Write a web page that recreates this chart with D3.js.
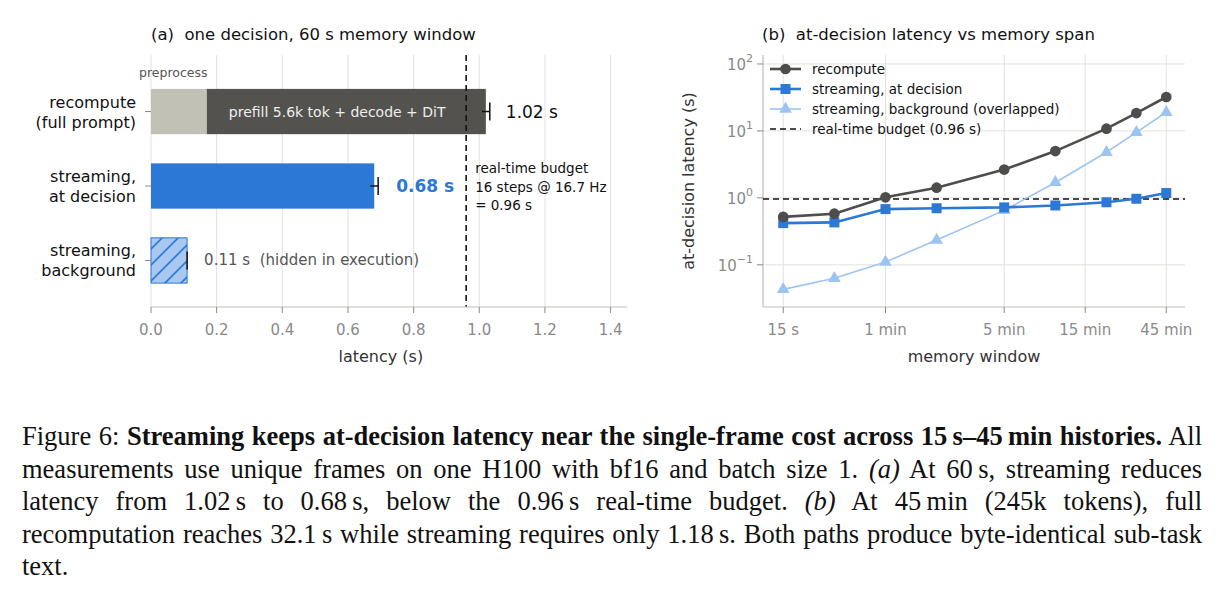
<!DOCTYPE html>
<html><head><meta charset="utf-8">
<script src="https://cdn.jsdelivr.net/npm/d3@7"></script>
<style>
body{margin:0;background:#fff;}
#cap{position:absolute;left:22px;top:420px;width:1180px;font-family:"Liberation Serif","Times New Roman",serif;font-size:26.5px;line-height:32.5px;text-align:justify;color:#111;}
svg text{white-space:pre;}
</style></head><body>
<svg id="fig" width="1219" height="400" style="position:absolute;left:0;top:0"></svg>
<div id="cap">Figure 6: <b>Streaming keeps at-decision latency near the single-frame cost across 15&#8201;s–45&#8201;min histories.</b> All measurements use unique frames on one H100 with bf16 and batch size 1. <i>(a)</i> At 60&#8201;s, streaming reduces latency from 1.02&#8201;s to 0.68&#8201;s, below the 0.96&#8201;s real-time budget. <i>(b)</i> At 45&#8201;min (245k tokens), full recomputation reaches 32.1&#8201;s while streaming requires only 1.18&#8201;s. Both paths produce byte-identical sub-task text.</div>
<script>
// panel (a)
const barCats = ["recompute|(full prompt)", "streaming,|at decision", "streaming,|background"];
const preprocess = 0.17;
const barTotals = [1.02, 0.68, 0.11];
const barErr = [0.012, 0.012, 0.0];
const budget = 0.96;
const aTicks = [0, 0.2, 0.4, 0.6, 0.8, 1.0, 1.2, 1.4];
// panel (b)
const windowSec = [15, 30, 60, 120, 300, 600, 1200, 1800, 2700];
const recompute = [0.52, 0.58, 1.02, 1.42, 2.65, 5.0, 10.8, 18.5, 32.1];
const streamDecision = [0.42, 0.43, 0.68, 0.70, 0.72, 0.77, 0.86, 0.97, 1.18];
const streamBackground = [0.043, 0.063, 0.11, 0.235, 0.65, 1.7, 4.8, 9.5, 19.0];
const bTickVals = [15, 60, 300, 900, 2700];
const bTickLabels = ["15 s", "1 min", "5 min", "15 min", "45 min"];

const svg = d3.select("#fig");
const F = "DejaVu Sans, sans-serif";
const grid = "#e2e1dc", axisC = "#bdbcb4", tickC = "#8a8a8a";

// ---- (a)
const xa = d3.scaleLinear().domain([0, 1.45]).range([151, 627]);
const ya = d3.scaleBand().domain(barCats).range([74, 298]).paddingInner(0.392).paddingOuter(0.2);
const ga = svg.append("g");
ga.selectAll("line.g").data(aTicks).join("line")
  .attr("x1", d => xa(d)).attr("x2", d => xa(d)).attr("y1", 55).attr("y2", 307)
  .attr("stroke", grid).attr("stroke-width", 1);
const defs = svg.append("defs");
const pat = defs.append("pattern").attr("id", "hatch").attr("patternUnits", "userSpaceOnUse")
  .attr("width", 16).attr("height", 16);
pat.append("rect").attr("width", 16).attr("height", 16).attr("fill", "#a8c8f0");
pat.append("path").attr("d", "M-4,4 L4,-4 M0,16 L16,0 M12,20 L20,12").attr("stroke", "#2b78d6").attr("stroke-width", 1.6);

const bh = ya.bandwidth();
ga.append("rect").attr("x", xa(0)).attr("y", ya(barCats[0])).attr("width", xa(preprocess) - xa(0)).attr("height", bh).attr("fill", "#c2c1b6");
ga.append("rect").attr("x", xa(preprocess)).attr("y", ya(barCats[0])).attr("width", xa(barTotals[0]) - xa(preprocess)).attr("height", bh).attr("fill", "#53524e");
ga.append("rect").attr("x", xa(0)).attr("y", ya(barCats[1])).attr("width", xa(barTotals[1]) - xa(0)).attr("height", bh).attr("fill", "#2b78d6");
ga.append("rect").attr("x", xa(0)).attr("y", ya(barCats[2])).attr("width", xa(barTotals[2]) - xa(0)).attr("height", bh).attr("fill", "url(#hatch)").attr("stroke", "#2b78d6").attr("stroke-width", 1);
barCats.forEach((c, i) => {
  const cy = ya(c) + bh / 2;
  const g = ga.append("g").attr("stroke", "#111").attr("stroke-width", 1.5);
  g.append("line").attr("x1", xa(barTotals[i] - barErr[i])).attr("x2", xa(barTotals[i] + barErr[i])).attr("y1", cy).attr("y2", cy);
  g.append("line").attr("x1", xa(barTotals[i] + barErr[i])).attr("x2", xa(barTotals[i] + barErr[i])).attr("y1", cy - 9).attr("y2", cy + 9);
});
ga.append("line").attr("x1", xa(budget)).attr("x2", xa(budget)).attr("y1", 55).attr("y2", 307)
  .attr("stroke", "#111").attr("stroke-width", 1.6).attr("stroke-dasharray", "6,4");
ga.append("line").attr("x1", 151).attr("x2", 627).attr("y1", 307).attr("y2", 307).attr("stroke", axisC).attr("stroke-width", 1.2);
ga.selectAll("line.t").data(aTicks).join("line").attr("x1", d => xa(d)).attr("x2", d => xa(d)).attr("y1", 307).attr("y2", 313).attr("stroke", tickC);
ga.selectAll("text.t").data(aTicks).join("text").attr("x", d => xa(d)).attr("y", 335).attr("text-anchor", "middle")
  .attr("font-family", F).attr("font-size", 15).attr("fill", tickC).text(d => d.toFixed(1));
ga.append("text").attr("x", xa(0.7)).attr("y", 362).attr("text-anchor", "middle").attr("font-family", F).attr("font-size", 16).attr("fill", "#333").text("latency (s)");
barCats.forEach(c => {
  const cy = ya(c) + bh / 2;
  ga.append("line").attr("x1", 145).attr("x2", 151).attr("y1", cy).attr("y2", cy).attr("stroke", tickC);
  const t = ga.append("text").attr("text-anchor", "end").attr("font-family", F).attr("font-size", 16).attr("fill", "#111");
  c.split("|").forEach((s, k) => t.append("tspan").attr("x", 136).attr("y", cy - 4 + k * 20).text(s));
});
ga.append("text").attr("x", 139).attr("y", 77).attr("font-family", F).attr("font-size", 12.5).attr("fill", "#555").text("preprocess");
ga.append("text").attr("x", xa(preprocess) + 22).attr("y", ya(barCats[0]) + bh / 2 + 5).attr("font-family", F).attr("font-size", 14).attr("fill", "#eee").text("prefill 5.6k tok + decode + DiT");
ga.append("text").attr("x", xa(barTotals[0]) + 20).attr("y", ya(barCats[0]) + bh / 2 + 6).attr("font-family", F).attr("font-size", 17).attr("fill", "#111").text("1.02 s");
ga.append("text").attr("x", xa(barTotals[1]) + 22).attr("y", ya(barCats[1]) + bh / 2 + 6).attr("font-family", F).attr("font-size", 17).attr("font-weight", "bold").attr("fill", "#2b78d6").text("0.68 s");
ga.append("text").attr("x", xa(barTotals[2]) + 17).attr("y", ya(barCats[2]) + bh / 2 + 5).attr("font-family", F).attr("font-size", 15).attr("fill", "#555").text("0.11 s  (hidden in execution)");
const bt = ga.append("text").attr("font-family", F).attr("font-size", 13.5).attr("fill", "#111");
["real-time budget", "16 steps @ 16.7 Hz", "= 0.96 s"].forEach((s, k) => bt.append("tspan").attr("x", xa(budget) + 9).attr("y", 173 + k * 18.5).text(s));
ga.append("text").attr("x", 151).attr("y", 40).attr("font-family", F).attr("font-size", 16.5).attr("fill", "#111").text("(a)  one decision, 60 s memory window");

// ---- (b)
const L = 763, R = 1185, T = 55, B = 307;
const xb = d3.scaleLog().domain([11.4, 3480]).range([L, R]);
const yb = d3.scaleLog().domain([10 ** -1.63, 10 ** 2.134]).range([B, T]);
const gb = svg.append("g");
[0.1, 1, 10, 100].forEach(v => gb.append("line").attr("x1", L).attr("x2", R).attr("y1", yb(v)).attr("y2", yb(v)).attr("stroke", grid));
bTickVals.forEach(v => gb.append("line").attr("x1", xb(v)).attr("x2", xb(v)).attr("y1", T).attr("y2", B).attr("stroke", grid));
gb.append("line").attr("x1", L).attr("x2", R).attr("y1", B).attr("y2", B).attr("stroke", axisC).attr("stroke-width", 1.2);
gb.append("line").attr("x1", L).attr("x2", L).attr("y1", T).attr("y2", B).attr("stroke", axisC).attr("stroke-width", 1.2);
bTickVals.forEach((v, i) => {
  gb.append("line").attr("x1", xb(v)).attr("x2", xb(v)).attr("y1", B).attr("y2", B + 6).attr("stroke", tickC);
  gb.append("text").attr("x", xb(v)).attr("y", 335).attr("text-anchor", "middle").attr("font-family", F).attr("font-size", 15).attr("fill", tickC).text(bTickLabels[i]);
});
[-1, 0, 1, 2].forEach(e => {
  const y = yb(10 ** e);
  gb.append("line").attr("x1", L - 6).attr("x2", L).attr("y1", y).attr("y2", y).attr("stroke", tickC);
  const t = gb.append("text").attr("x", L - 10).attr("y", y + 6).attr("text-anchor", "end").attr("font-family", F).attr("font-size", 15).attr("fill", tickC);
  t.append("tspan").text("10");
  t.append("tspan").attr("dy", -8).attr("font-size", 11).text(e < 0 ? "\u2212" + (-e) : e);
});
gb.append("text").attr("transform", `translate(694,${(T + B) / 2}) rotate(-90)`).attr("text-anchor", "middle").attr("font-family", F).attr("font-size", 16).attr("fill", "#333").text("at-decision latency (s)");
gb.append("text").attr("x", (L + R) / 2).attr("y", 362).attr("text-anchor", "middle").attr("font-family", F).attr("font-size", 16).attr("fill", "#333").text("memory window");
gb.append("text").attr("x", 762).attr("y", 40).attr("font-family", F).attr("font-size", 16.5).attr("fill", "#111").text("(b)  at-decision latency vs memory span");
gb.append("line").attr("x1", L).attr("x2", R).attr("y1", yb(budget)).attr("y2", yb(budget)).attr("stroke", "#111").attr("stroke-width", 1.6).attr("stroke-dasharray", "6,4");

const series = [
  {name: "recompute", vals: recompute, color: "#4d4d4b", w: 2.6, sym: d3.symbolCircle, size: 90},
  {name: "streaming, at decision", vals: streamDecision, color: "#2b78d6", w: 2.6, sym: d3.symbolSquare, size: 100},
  {name: "streaming, background (overlapped)", vals: streamBackground, color: "#9cc4f2", w: 1.6, sym: d3.symbolTriangle, size: 70}
];
const line = d3.line().x((d, i) => xb(windowSec[i])).y(d => yb(d));
series.slice().reverse().forEach(s => {
  gb.append("path").datum(s.vals).attr("d", line).attr("fill", "none").attr("stroke", s.color).attr("stroke-width", s.w);
  gb.selectAll(null).data(s.vals).join("path").attr("d", d3.symbol().type(s.sym).size(s.size))
    .attr("transform", (d, i) => `translate(${xb(windowSec[i])},${yb(d)})`).attr("fill", s.color);
});
series.forEach((s, k) => {
  const y = 69 + k * 20;
  gb.append("line").attr("x1", 770).attr("x2", 801).attr("y1", y).attr("y2", y).attr("stroke", s.color).attr("stroke-width", s.w);
  gb.append("path").attr("d", d3.symbol().type(s.sym).size(s.size)).attr("transform", `translate(785.5,${y})`).attr("fill", s.color);
  gb.append("text").attr("x", 812).attr("y", y + 5).attr("font-family", F).attr("font-size", 13.5).attr("fill", "#111").text(s.name);
});
gb.append("line").attr("x1", 770).attr("x2", 801).attr("y1", 129).attr("y2", 129).attr("stroke", "#111").attr("stroke-width", 1.6).attr("stroke-dasharray", "6,4");
gb.append("text").attr("x", 812).attr("y", 134).attr("font-family", F).attr("font-size", 13.5).attr("fill", "#111").text("real-time budget (0.96 s)");
</script></body></html>
